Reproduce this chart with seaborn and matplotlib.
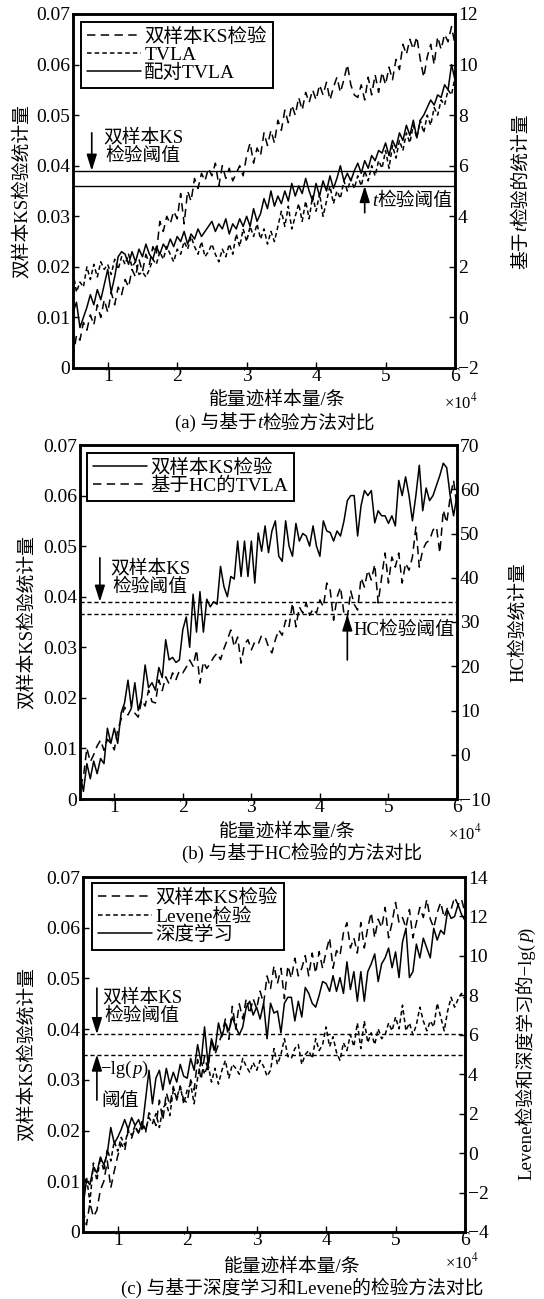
import numpy as np
import pandas as pd
import matplotlib
matplotlib.use("Agg")
import matplotlib.pyplot as plt
import seaborn as sns

# ---------------- data ----------------
SAMPLES = np.arange(5000, 60001, 500)

KS_A = [
    0.0020, 0.0065, 0.0055, 0.0090, 0.0075, 0.0105, 0.0085, 0.0125, 0.0100, 0.0135,
    0.0110, 0.0150, 0.0125, 0.0160, 0.0145, 0.0175, 0.0160, 0.0195, 0.0180, 0.0215,
    0.0190, 0.0225, 0.0205, 0.0240, 0.0225, 0.0290, 0.0270, 0.0300, 0.0285, 0.0310,
    0.0295, 0.0345, 0.0285, 0.0350, 0.0330, 0.0375, 0.0355, 0.0385, 0.0370, 0.0395,
    0.0380, 0.0405, 0.0360, 0.0400, 0.0375, 0.0395, 0.0370, 0.0385, 0.0400, 0.0380,
    0.0420, 0.0445, 0.0405, 0.0435, 0.0420, 0.0465, 0.0440, 0.0470, 0.0445, 0.0490,
    0.0470, 0.0510, 0.0485, 0.0520, 0.0500, 0.0535, 0.0510, 0.0545, 0.0525, 0.0550,
    0.0530, 0.0560, 0.0540, 0.0565, 0.0530, 0.0555, 0.0575, 0.0545, 0.0570, 0.0600,
    0.0560, 0.0540, 0.0535, 0.0560, 0.0530, 0.0575, 0.0540, 0.0580, 0.0545, 0.0585,
    0.0560, 0.0595, 0.0570, 0.0610, 0.0590, 0.0640, 0.0620, 0.0650, 0.0630, 0.0655,
    0.0610, 0.0575, 0.0615, 0.0640, 0.0600, 0.0655, 0.0630, 0.0660, 0.0645, 0.0675,
    0.0640]
TVLA_A = [
    1.8, 1.0, 1.4, 1.2, 2.0, 1.5, 2.1, 1.6, 2.2, 1.9,
    2.1, 1.7, 2.3, 1.9, 2.4, 2.1, 2.5, 2.0, 2.2, 1.7,
    1.8, 1.6, 1.9, 2.3, 2.1, 2.6, 2.3, 2.8, 2.5, 2.2,
    2.7, 2.5, 3.0, 2.7, 3.2, 2.8, 2.5, 3.0, 2.4, 2.6,
    2.9, 2.5, 2.2, 2.7, 2.4, 2.9, 2.5, 3.3, 2.8, 3.5,
    3.0, 3.6, 3.2, 3.7, 3.1, 3.5, 2.9, 3.4, 3.0, 3.6,
    4.2, 3.6, 4.4, 3.5, 4.0, 4.5, 3.8, 4.6, 3.9, 4.8,
    4.2, 4.9, 4.0, 4.6, 5.2, 4.5, 5.0, 4.7, 5.4, 5.0,
    5.5, 5.1, 5.6, 5.2, 5.8, 5.4, 6.0, 5.6, 6.2, 5.9,
    6.6, 5.9, 6.8, 6.3, 7.0, 6.6, 7.3, 6.9, 7.6, 7.1,
    7.8, 7.3, 8.0, 7.6, 8.3, 8.0, 8.6, 8.4, 9.0, 8.8,
    9.5]
PAIRED_A = [
    0.2, 0.6, -0.4, 0.0, 0.4, 0.9, 0.5, 1.1, 0.7, 1.3,
    1.9, 1.0, 1.6, 2.4, 2.6, 2.5, 2.1, 2.6, 2.2, 2.7,
    2.4, 2.9, 2.5, 2.3, 2.8, 2.5, 2.9, 2.7, 3.1, 2.8,
    3.2, 3.0, 3.4, 2.9, 3.3, 3.1, 3.5, 3.2, 3.4, 3.6,
    3.8, 3.4, 3.7, 3.5, 3.9, 3.3, 3.7, 3.5, 3.9, 3.6,
    4.0, 3.6, 4.3, 3.8, 4.1, 4.7, 4.3, 5.0, 4.4, 4.8,
    4.5, 5.0, 4.6, 5.3, 4.8, 5.2, 4.9, 5.5, 5.0, 4.6,
    5.3, 4.8, 5.4, 5.0, 5.6, 5.1, 5.5, 6.0, 5.4, 5.7,
    5.4, 5.8, 6.1, 5.7, 6.2, 5.9, 6.4, 6.2, 6.6, 6.5,
    6.9, 6.4, 7.0, 6.7, 7.3, 7.0, 7.6, 7.2, 7.8, 7.1,
    7.8, 8.0, 8.3, 8.6, 8.4, 8.8, 8.7, 9.2, 9.0, 10.0,
    9.4]

KS_B = [
    0.0050, 0.0015, 0.0070, 0.0040, 0.0075, 0.0050, 0.0080, 0.0070, 0.0140, 0.0110,
    0.0140, 0.0110, 0.0170, 0.0190, 0.0235, 0.0180, 0.0230, 0.0175, 0.0200, 0.0265,
    0.0220, 0.0230, 0.0215, 0.0260, 0.0240, 0.0315, 0.0275, 0.0280, 0.0270, 0.0275,
    0.0335, 0.0360, 0.0300, 0.0405, 0.0330, 0.0410, 0.0330, 0.0395, 0.0380, 0.0390,
    0.0385, 0.0460, 0.0420, 0.0400, 0.0440, 0.0435, 0.0510, 0.0440, 0.0510, 0.0440,
    0.0510, 0.0427, 0.0526, 0.0490, 0.0540, 0.0487, 0.0530, 0.0550, 0.0480, 0.0470,
    0.0550, 0.0500, 0.0480, 0.0545, 0.0510, 0.0525, 0.0520, 0.0500, 0.0540, 0.0500,
    0.0480, 0.0550, 0.0530, 0.0527, 0.0510, 0.0530, 0.0520, 0.0549, 0.0590, 0.0600,
    0.0600, 0.0520, 0.0580, 0.0610, 0.0600, 0.0610, 0.0546, 0.0570, 0.0560, 0.0560,
    0.0545, 0.0560, 0.0540, 0.0630, 0.0600, 0.0637, 0.0600, 0.0550, 0.0600, 0.0660,
    0.0570, 0.0615, 0.0590, 0.0600, 0.0620, 0.0640, 0.0664, 0.0655, 0.0600, 0.0560,
    0.0600]
HC_B = [
    -7.3, -5.0, 1.5, -1.6, 0.0, 2.0, 3.3, 1.0, 3.5, 2.6,
    1.1, 5.6, 8.0, 10.8, 9.0, 10.5, 9.4, 8.5, 12.4, 11.0,
    14.6, 12.0, 11.7, 16.9, 14.5, 17.6, 16.0, 18.5, 17.0, 19.0,
    18.5, 19.8, 21.4, 20.0, 23.7, 16.2, 21.0, 19.5, 20.7, 22.0,
    23.0, 21.5, 24.0, 26.0, 28.2, 24.4, 26.6, 20.7, 25.0, 26.0,
    23.7, 25.5, 25.0, 27.0, 26.6, 24.4, 23.0, 26.0, 28.2, 27.0,
    30.4, 29.0, 34.3, 28.9, 33.4, 32.0, 34.3, 31.5, 33.0, 32.0,
    35.0, 33.4, 38.8, 37.2, 30.4, 35.6, 37.9, 32.0, 31.0, 37.0,
    34.0, 32.7, 40.0, 37.9, 41.7, 39.5, 43.0, 34.3, 40.0, 45.6,
    38.8, 44.7, 42.4, 45.6, 38.8, 43.3, 41.7, 44.7, 51.5, 42.4,
    46.3, 47.9, 48.5, 50.8, 51.5, 45.6, 55.3, 52.4, 58.2, 62.0,
    56.0]

KS_C = [
    0.0045, 0.0014, 0.0057, 0.0030, 0.0043, 0.0083, 0.0100, 0.0140, 0.0087, 0.0120,
    0.0150, 0.0175, 0.0160, 0.0200, 0.0185, 0.0207, 0.0195, 0.0215, 0.0195, 0.0235,
    0.0227, 0.0210, 0.0260, 0.0220, 0.0275, 0.0250, 0.0287, 0.0260, 0.0287, 0.0260,
    0.0255, 0.0300, 0.0280, 0.0340, 0.0300, 0.0346, 0.0320, 0.0380, 0.0350, 0.0370,
    0.0390, 0.0420, 0.0380, 0.0445, 0.0400, 0.0450, 0.0420, 0.0460, 0.0430, 0.0460,
    0.0440, 0.0475, 0.0450, 0.0505, 0.0480, 0.0525, 0.0490, 0.0520, 0.0460, 0.0525,
    0.0500, 0.0540, 0.0505, 0.0520, 0.0545, 0.0505, 0.0550, 0.0510, 0.0553, 0.0520,
    0.0553, 0.0580, 0.0520, 0.0555, 0.0545, 0.0590, 0.0610, 0.0560, 0.0580, 0.0550,
    0.0610, 0.0560, 0.0600, 0.0630, 0.0580, 0.0617, 0.0600, 0.0640, 0.0580, 0.0610,
    0.0650, 0.0610, 0.0620, 0.0600, 0.0636, 0.0580, 0.0610, 0.0640, 0.0620, 0.0656,
    0.0617, 0.0600, 0.0630, 0.0650, 0.0620, 0.0640, 0.0636, 0.0660, 0.0645, 0.0656,
    0.0630]
LEV_C = [
    -1.9, -1.2, -2.5, -0.5, -1.4, -0.2, -0.9, 0.2, -0.4, 0.6,
    0.1, 0.8, 0.4, 1.2, 0.9, 1.4, 1.0, 1.6, 1.2, 1.8,
    1.5, 2.0, 1.3, 2.3, 2.5, 1.9, 3.2, 2.8, 3.4, 2.5,
    3.2, 3.5, 2.5, 3.8, 4.7, 4.0, 4.5, 3.6, 4.3, 3.5,
    4.2, 4.7, 3.8, 4.5, 4.3, 4.0, 4.8, 4.4, 4.1, 4.6,
    4.2, 4.7, 4.4, 3.9, 4.2, 5.3, 4.5, 5.0, 5.8, 4.9,
    4.8, 5.3, 5.5, 4.5, 5.0, 5.2, 4.8, 5.8, 5.2, 5.5,
    6.4, 5.4, 5.9, 5.1, 4.7, 5.6, 5.2, 6.0, 5.4, 6.6,
    5.3, 6.7, 5.6, 6.1, 5.5, 6.3, 5.8, 6.0, 6.6, 6.2,
    6.9, 6.3, 7.5, 6.2, 6.6, 6.0, 6.5, 7.4, 6.7, 6.2,
    6.7, 6.4, 7.6, 6.9, 6.2, 7.2, 7.9, 7.4, 7.8, 8.1,
    7.8]
DL_C = [
    -2.7, -1.4, -1.6, -0.7, -1.0, -0.2, -0.6, 0.0, 1.3, 0.5,
    0.8, 1.2, 1.7, 1.2, 1.8, 1.4, 1.7, 1.2, 2.7, 4.2,
    2.5, 3.8, 4.2, 3.2, 4.3, 3.5, 4.1, 3.6, 4.5, 3.9,
    3.8, 4.8, 4.2, 5.5, 4.6, 6.4, 4.5, 5.8, 5.2, 6.6,
    5.9, 6.6, 6.2, 6.9, 6.4, 6.0, 6.4, 7.4, 7.7, 7.0,
    7.4, 6.8, 7.6, 5.8, 7.6, 7.1, 7.2, 6.1, 7.6, 7.9,
    7.9, 6.7, 7.7, 6.9, 8.4, 8.1, 7.6, 7.4, 8.0, 8.7,
    8.6, 8.2, 9.0, 8.2, 8.9, 8.1, 9.7, 8.3, 9.2, 7.7,
    9.2, 7.7, 9.2, 9.6, 10.1, 8.7, 9.6, 9.9, 10.4, 9.4,
    10.2, 8.9, 10.7, 11.4, 8.9, 9.2, 10.6, 9.9, 10.9, 10.4,
    9.9, 11.4, 10.8, 11.3, 11.1, 12.3, 11.9, 12.0, 12.6, 12.1,
    11.8]

X_TICKS = [10000, 20000, 30000, 40000, 50000, 60000]
X_TICKLABELS = ["1", "2", "3", "4", "5", "6"]
LEFT_TICKS = [0, 0.01, 0.02, 0.03, 0.04, 0.05, 0.06, 0.07]
LEFT_TICKLABELS = ["0", "0.01", "0.02", "0.03", "0.04", "0.05", "0.06", "0.07"]
RIGHT_A_TICKS = [-2, 0, 2, 4, 6, 8, 10, 12]
RIGHT_A_LABELS = ["\u22122", "0", "2", "4", "6", "8", "10", "12"]
RIGHT_B_TICKS = [-10, 0, 10, 20, 30, 40, 50, 60, 70]
RIGHT_B_LABELS = ["\u221210", "0", "10", "20", "30", "40", "50", "60", "70"]
RIGHT_C_TICKS = [-4, -2, 0, 2, 4, 6, 8, 10, 12, 14]
RIGHT_C_LABELS = ["\u22124", "\u22122", "0", "2", "4", "6", "8", "10", "12", "14"]

THRESH_A = [0.039, 0.036]
THRESH_B = [0.039, 0.0365]
THRESH_C = [0.039, 0.035]

for arr in (KS_A, TVLA_A, PAIRED_A, KS_B, HC_B, KS_C, LEV_C, DL_C):
    assert len(arr) == len(SAMPLES), len(arr)

df_a = pd.DataFrame({"n": SAMPLES, "ks": KS_A, "tvla": TVLA_A, "paired": PAIRED_A})
df_b = pd.DataFrame({"n": SAMPLES, "ks": KS_B, "hc": HC_B})
df_c = pd.DataFrame({"n": SAMPLES, "ks": KS_C, "lev": LEV_C, "dl": DL_C})

# ---------------- style ----------------
sns.set_theme(style="ticks")
plt.rcParams["font.family"] = ["Liberation Serif", "Noto Sans CJK SC"]
plt.rcParams["mathtext.fontset"] = "stix"
plt.rcParams["axes.edgecolor"] = "black"
plt.rcParams["xtick.color"] = "black"
plt.rcParams["ytick.color"] = "black"
plt.rcParams["text.color"] = "black"

W_PX, H_PX = 544, 1299
DPI = 100
fig = plt.figure(figsize=(W_PX / DPI, H_PX / DPI), dpi=DPI)

TICK_FS = 14
LAB_FS = 13.5
LEG_FS = 14
ANN_FS = 13.5

LONG_DASH = (0, (5.5, 3.5))
SHORT_DASH = (0, (3, 2))


def rect(left, top, right, bottom):
    return [left / W_PX, 1 - bottom / H_PX, (right - left) / W_PX, (bottom - top) / H_PX]


def style_axes(ax, ax2, rticks, rlabels, rlim):
    ax.set_xlim(5000, 60000)
    ax.set_ylim(0, 0.07)
    ax.set_xticks(X_TICKS)
    ax.set_xticklabels(X_TICKLABELS)
    ax.set_yticks(LEFT_TICKS)
    ax.set_yticklabels(LEFT_TICKLABELS)
    ax2.set_ylim(*rlim)
    ax2.set_yticks(rticks)
    ax2.set_yticklabels(rlabels)
    for a in (ax, ax2):
        a.set_xlabel("")
        a.set_ylabel("")
        a.tick_params(direction="in", length=4, width=1.0, labelsize=TICK_FS, pad=2)
        for s in a.spines.values():
            s.set_visible(True)
            s.set_linewidth(1.8)
            s.set_color("black")
    ax.tick_params(axis="x", pad=0)


def line(ax, df, col, ls, label):
    sns.lineplot(data=df, x="n", y=col, ax=ax, color="black", linewidth=1.1,
                 linestyle=ls, legend=False, errorbar=None)
    ln = ax.lines[-1]
    ln.set_label(label)
    return ln


def ptext(x, y, s, **kw):
    fig.text(x / W_PX, 1 - y / H_PX, s, **kw)


def rich_text(pieces, x, y, size, rotation=0):
    """pieces placed side by side; (x, y) is the centre in pixels from top-left."""
    renderer = fig.canvas.get_renderer()
    widths = []
    for s, st in pieces:
        t = fig.text(0, 0, s, fontsize=size, style=st)
        widths.append(t.get_window_extent(renderer).width)
        t.remove()
    total = sum(widths)
    size_px = size * DPI / 72
    pos = -total / 2
    for (s, st), w in zip(pieces, widths):
        if rotation == 0:
            px = x + pos
            py = H_PX - (y + 0.33 * size_px)
        else:
            px = x + 0.33 * size_px
            py = H_PX - y + pos
        fig.text(px / W_PX, py / H_PX, s, fontsize=size, style=st, rotation=rotation,
                 rotation_mode="anchor", ha="left", va="baseline")
        pos += w


def legend(ax2, handles, top_left_px, ax_rect_px):
    l, t, r, b = ax_rect_px
    bx = (top_left_px[0] - l) / (r - l)
    by = 1 - (top_left_px[1] - t) / (b - t)
    leg = ax2.legend(handles=handles, loc="upper left", bbox_to_anchor=(bx, by),
                     borderaxespad=0, fontsize=LEG_FS, frameon=True, fancybox=False,
                     edgecolor="black", framealpha=1, handlelength=2.8,
                     handletextpad=0.15, labelspacing=0.0, borderpad=0.3)
    leg.get_frame().set_linewidth(1.4)


def arrow(ax, x, y0, y1):
    ax.annotate("", xy=(x, y1), xytext=(x, y0),
                arrowprops=dict(arrowstyle="-|>,head_length=0.7,head_width=0.22",
                                color="black", lw=1.2, shrinkA=0, shrinkB=0,
                                mutation_scale=14))


# ---------------- panel (a) ----------------
RA = (73, 14, 455, 368)
axA = fig.add_axes(rect(*RA))
axA2 = axA.twinx()
h1 = line(axA, df_a, "ks", LONG_DASH, "双样本KS检验")
h2 = line(axA2, df_a, "tvla", SHORT_DASH, "TVLA")
h3 = line(axA2, df_a, "paired", "-", "配对TVLA")
for v in THRESH_A:
    axA.axhline(v, color="black", lw=1.0)
style_axes(axA, axA2, RIGHT_A_TICKS, RIGHT_A_LABELS, (-2, 12))
legend(axA2, [h1, h2, h3], (81, 22), RA)
arrow(axA, 7700, 0.0465, 0.039)
axA.text(15100, 0.0437, "双样本KS\n检验阈值", fontsize=ANN_FS, ha="center", va="center",
         linespacing=1.05)
arrow(axA, 47000, 0.0307, 0.036)

# ---------------- panel (b) ----------------
RB = (80, 445, 457, 799)
axB = fig.add_axes(rect(*RB))
axB2 = axB.twinx()
g1 = line(axB, df_b, "ks", "-", "双样本KS检验")
g2 = line(axB2, df_b, "hc", LONG_DASH, "基于HC的TVLA")
for v in THRESH_B:
    axB.axhline(v, color="black", lw=1.0, linestyle=SHORT_DASH)
style_axes(axB, axB2, RIGHT_B_TICKS, RIGHT_B_LABELS, (-10, 70))
legend(axB2, [g1, g2], (87, 453), RB)
arrow(axB, 7900, 0.0477, 0.039)
axB.text(15200, 0.0437, "双样本KS\n检验阈值", fontsize=ANN_FS, ha="center", va="center",
         linespacing=1.05)
arrow(axB, 44000, 0.0275, 0.0365)
axB.text(44900, 0.0334, "HC检验阈值", fontsize=ANN_FS, ha="left", va="center")

# ---------------- panel (c) ----------------
RC = (83, 877, 465, 1232)
axC = fig.add_axes(rect(*RC))
axC2 = axC.twinx()
k1 = line(axC, df_c, "ks", LONG_DASH, "双样本KS检验")
k2 = line(axC2, df_c, "lev", SHORT_DASH, "Levene检验")
k3 = line(axC2, df_c, "dl", "-", "深度学习")
for v in THRESH_C:
    axC.axhline(v, color="black", lw=1.0, linestyle=SHORT_DASH)
style_axes(axC, axC2, RIGHT_C_TICKS, RIGHT_C_LABELS, (-4, 14))
legend(axC2, [k1, k2, k3], (92, 883), RC)
arrow(axC, 7000, 0.0481, 0.039)
axC.text(13500, 0.0444, "双样本KS\n检验阈值", fontsize=ANN_FS, ha="center", va="center",
         linespacing=1.05)
arrow(axC, 7000, 0.026, 0.035)
axC.text(7700, 0.0258, "阈值", fontsize=ANN_FS, ha="left", va="center")

# ---------------- figure texts ----------------
# panel a
ptext(22, 191, "双样本KS检验统计量", fontsize=LAB_FS, rotation=90, ha="center", va="center")
rich_text([("基于", "normal"), ("t", "italic"), ("检验的统计量", "normal")], 520, 191, LAB_FS, rotation=90)
ptext(277, 400, "能量迹样本量/条", fontsize=LAB_FS, ha="center", va="center")
ptext(461, 402, "×10$^{4}$", fontsize=12, ha="center", va="center")
rich_text([("(a) 与基于", "normal"), ("t", "italic"), ("检验方法对比", "normal")], 275, 422, LAB_FS)
rich_text([("t", "italic"), ("检验阈值", "normal")], 412, 200, ANN_FS)

# panel b
ptext(27, 622, "双样本KS检验统计量", fontsize=LAB_FS, rotation=90, ha="center", va="center")
ptext(518, 622, "HC检验统计量", fontsize=LAB_FS, rotation=90, ha="center", va="center")
ptext(287, 832, "能量迹样本量/条", fontsize=LAB_FS, ha="center", va="center")
ptext(465, 833, "×10$^{4}$", fontsize=12, ha="center", va="center")
ptext(302, 853, "(b) 与基于HC检验的方法对比", fontsize=LAB_FS, ha="center", va="center")

# panel c
ptext(27, 1054, "双样本KS检验统计量", fontsize=LAB_FS, rotation=90, ha="center", va="center")
rich_text([("Levene检验和深度学习的\u2212lg(", "normal"), ("p", "italic"), (")", "normal")],
          525, 1054, LAB_FS, rotation=90)
ptext(292, 1267, "能量迹样本量/条", fontsize=LAB_FS, ha="center", va="center")
ptext(462, 1262, "×10$^{4}$", fontsize=12, ha="center", va="center")
ptext(302, 1288, "(c) 与基于深度学习和Levene的检验方法对比", fontsize=LAB_FS, ha="center", va="center")
rich_text([("\u2212lg(", "normal"), ("p", "italic"), (")", "normal")], 124, 1068, ANN_FS)

fig.savefig("out.png", dpi=DPI, facecolor="white")
